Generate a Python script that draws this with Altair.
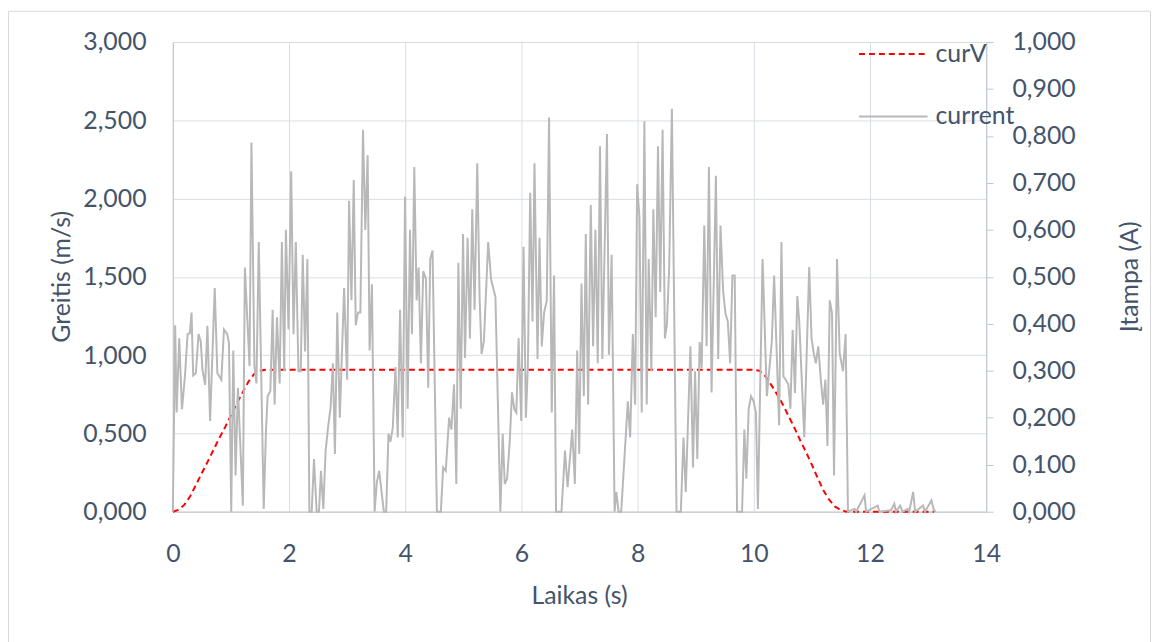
import altair as alt
import pandas as pd

# ---- curV (speed, left axis) ----
curv_t = [0.0, 0.1, 0.2, 0.3, 0.4, 0.5, 0.6, 0.7, 0.8, 0.9, 1.0, 1.1, 1.2, 1.3, 1.4, 1.5, 1.6,
          10.0, 10.1, 10.2, 10.3, 10.4, 10.5, 10.6, 10.7, 10.8, 10.9, 11.0, 11.1, 11.2, 11.3,
          11.4, 11.5, 11.6, 13.1]
curv_v = [0.0, 0.012, 0.045, 0.10, 0.173, 0.247, 0.32, 0.395, 0.47, 0.54, 0.615, 0.69, 0.76,
          0.83, 0.88, 0.90, 0.907,
          0.907, 0.90, 0.865, 0.81, 0.75, 0.685, 0.61, 0.535, 0.455, 0.38, 0.30, 0.215, 0.135,
          0.075, 0.032, 0.01, 0.0, 0.0]

# ---- current (right axis) ----
current_t = [
    0.00, 0.04, 0.065, 0.11, 0.157, 0.208, 0.254, 0.293, 0.322, 0.35, 0.396, 0.442, 0.481, 0.51,
    0.556, 0.595, 0.641, 0.721, 0.766, 0.835, 0.88, 0.937, 0.966, 1.005, 1.04, 1.08, 1.12, 1.205,
    1.24, 1.32, 1.353, 1.404, 1.439, 1.479, 1.564, 1.604, 1.632, 1.678, 1.718, 1.752, 1.792, 1.838,
    1.877, 1.917, 1.946, 1.991, 2.037, 2.077, 2.117, 2.162, 2.202, 2.236, 2.276, 2.316,
    2.35, 2.39, 2.43, 2.475, 2.515, 2.55, 2.59, 2.63, 2.675, 2.715, 2.755, 2.79, 2.83, 2.874,
    2.948, 3.0, 3.034, 3.074, 3.114, 3.148, 3.188, 3.228, 3.273, 3.313, 3.353, 3.387, 3.427, 3.473,
    3.512, 3.552, 3.587, 3.632, 3.672, 3.712, 3.746, 3.786, 3.832, 3.871, 3.911, 3.957, 3.997,
    4.042, 4.082, 4.116, 4.156, 4.196, 4.23, 4.27, 4.31, 4.356, 4.396, 4.43, 4.47,
    4.545, 4.613, 4.653, 4.698, 4.755, 4.795, 4.84, 4.88, 4.915, 4.955, 4.995, 5.029, 5.074,
    5.114, 5.154, 5.194, 5.24, 5.28, 5.314, 5.354, 5.428, 5.479, 5.553, 5.638, 5.678, 5.713,
    5.753, 5.798, 5.838, 5.878, 5.912, 5.952, 5.997, 6.037, 6.077, 6.111, 6.151, 6.191, 6.225,
    6.277, 6.311, 6.351, 6.39, 6.436, 6.476, 6.522, 6.562, 6.596, 6.647, 6.69,
    6.75, 6.795, 6.875, 6.92, 6.96, 6.995, 7.034, 7.074, 7.108, 7.148, 7.194, 7.234, 7.274,
    7.314, 7.353, 7.393, 7.473, 7.507, 7.553, 7.604, 7.633, 7.673, 7.718, 7.832, 7.872, 7.918,
    7.957, 7.992, 8.032, 8.071, 8.117, 8.157, 8.191, 8.237, 8.271, 8.311, 8.351, 8.39, 8.43,
    8.47, 8.504, 8.544, 8.59, 8.67, 8.744, 8.79, 8.829,
    8.909, 8.954, 8.989, 9.028, 9.068, 9.103, 9.148, 9.188, 9.228, 9.273, 9.348, 9.387, 9.427,
    9.473, 9.513, 9.553, 9.593, 9.632, 9.672, 9.712, 9.798, 9.838, 9.872, 9.912, 9.952, 9.997,
    10.037, 10.071, 10.151, 10.225, 10.265, 10.31, 10.35, 10.436, 10.476, 10.51, 10.55, 10.595,
    10.63, 10.669, 10.709, 10.749, 10.783, 10.869, 10.954, 10.994, 11.034, 11.068,
    11.11, 11.154, 11.194, 11.233, 11.268, 11.307, 11.347, 11.381, 11.433, 11.478, 11.535,
    11.581, 11.621, 11.735, 11.763, 11.906, 11.934, 12.134, 12.162, 12.362, 12.419, 12.447,
    12.521, 12.561, 12.647, 12.675, 12.743, 12.778, 12.914, 12.948, 13.057, 13.102, 13.131,
]
current_a = [
    0.0, 0.397, 0.211, 0.369, 0.218, 0.288, 0.378, 0.38, 0.424, 0.29, 0.295, 0.378, 0.362, 0.302,
    0.27, 0.396, 0.193, 0.476, 0.295, 0.281, 0.388, 0.378, 0.359, 0.0, 0.343, 0.077, 0.264, 0.013,
    0.52, 0.31, 0.786, 0.31, 0.273, 0.574, 0.006, 0.175, 0.246, 0.257, 0.43, 0.228, 0.414, 0.273,
    0.574, 0.299, 0.60, 0.388, 0.725, 0.378, 0.574, 0.299, 0.299, 0.547, 0.341, 0.538,
    0.0, 0.0, 0.112, 0.0, 0.0, 0.087, 0.006, 0.13, 0.183, 0.221, 0.316, 0.123, 0.424, 0.2,
    0.476, 0.281, 0.662, 0.45, 0.706, 0.397, 0.424, 0.424, 0.813, 0.60, 0.759, 0.343, 0.484, 0.0,
    0.063, 0.087, 0.049, 0.0, 0.0, 0.166, 0.149, 0.179, 0.308, 0.158, 0.43, 0.158, 0.671,
    0.219, 0.60, 0.378, 0.734, 0.45, 0.52, 0.316, 0.512, 0.496, 0.264, 0.538, 0.556,
    0.0, 0.0, 0.094, 0.087, 0.2, 0.175, 0.271, 0.059, 0.53, 0.219, 0.591, 0.327, 0.583,
    0.369, 0.644, 0.43, 0.742, 0.457, 0.336, 0.362, 0.574, 0.494, 0.457, 0.0, 0.166, 0.059,
    0.07, 0.147, 0.254, 0.218, 0.211, 0.369, 0.193, 0.564, 0.2, 0.309, 0.679, 0.405, 0.742,
    0.325, 0.583, 0.352, 0.424, 0.449, 0.839, 0.211, 0.503, 0.0, 0.0, 0.0,
    0.13, 0.052, 0.175, 0.059, 0.343, 0.123, 0.486, 0.246, 0.591, 0.228, 0.653, 0.352, 0.60,
    0.316, 0.778, 0.325, 0.804, 0.334, 0.547, 0.0, 0.042, 0.0, 0.0, 0.235, 0.158, 0.378,
    0.228, 0.697, 0.626, 0.211, 0.831, 0.228, 0.538, 0.299, 0.644, 0.414, 0.778, 0.468, 0.813,
    0.369, 0.397, 0.521, 0.858, 0.0, 0.0, 0.158, 0.042,
    0.352, 0.094, 0.299, 0.112, 0.361, 0.306, 0.609, 0.352, 0.734, 0.254, 0.715, 0.325, 0.609,
    0.468, 0.422, 0.405, 0.316, 0.503, 0.503, 0.0, 0.0, 0.175, 0.07, 0.218, 0.246, 0.235,
    0.211, 0.006, 0.538, 0.246, 0.299, 0.362, 0.503, 0.184, 0.574, 0.288, 0.281, 0.271,
    0.219, 0.387, 0.253, 0.459, 0.405, 0.158, 0.521, 0.369, 0.336, 0.316,
    0.352, 0.281, 0.228, 0.281, 0.14, 0.45, 0.422, 0.077, 0.538, 0.338, 0.299,
    0.378, 0.0, 0.006, 0.0, 0.035, 0.0, 0.013, 0.0, 0.003, 0.017, 0.0,
    0.013, 0.0, 0.006, 0.0, 0.042, 0.0, 0.013, 0.0, 0.024, 0.003, 0.0,
]

x_ticks = [0, 2, 4, 6, 8, 10, 12, 14]
left_ticks = [0, 0.5, 1.0, 1.5, 2.0, 2.5, 3.0]
right_ticks = [0, 0.1, 0.2, 0.3, 0.4, 0.5, 0.6, 0.7, 0.8, 0.9, 1.0]
series_names = ["curV", "current"]
series_colors = ["#FF0000", "#B8B8B8"]
series_dash = [[6, 4], [1, 0]]

TEXT = "#44546A"
GRID = "#D9DEE5"
DOMAIN = "#BFC6D1"
FONT = "Lato"
FS = 25

df_v = pd.DataFrame({"t": curv_t, "val": curv_v, "series": "curV"})
df_c = pd.DataFrame({"t": current_t, "val": current_a, "series": "current"})

label_expr = "replace(format(datum.value, '.3f'), '.', ',')"

legend = alt.Legend(
    orient="none", legendX=690, legendY=-3, title=None,
    symbolType="stroke", symbolSize=4761, symbolStrokeWidth=2,
    labelFont=FONT, labelFontSize=FS, labelColor=TEXT, labelOffset=7,
    clipHeight=30, rowPadding=33, padding=0,
)
color = alt.Color("series:N", scale=alt.Scale(domain=series_names, range=series_colors), legend=legend)
dash = alt.StrokeDash("series:N", scale=alt.Scale(domain=series_names, range=series_dash), legend=legend)

x_enc = alt.X(
    "t:Q",
    scale=alt.Scale(domain=[0, 14], nice=False),
    axis=alt.Axis(
        values=x_ticks, title="Laikas (s)", grid=True, gridColor=GRID, domainColor=DOMAIN,
        ticks=False, labelPadding=30, labelFlush=False, labelFont=FONT, labelFontSize=FS,
        labelColor=TEXT,
        titleFont=FONT, titleFontSize=FS, titleColor=TEXT, titleFontWeight="normal",
        titleX=409, titleY=84, titleBaseline="middle", titleAlign="center",
    ),
)

line_v = alt.Chart(df_v).mark_line(strokeWidth=2).encode(
    x=x_enc,
    y=alt.Y(
        "val:Q",
        scale=alt.Scale(domain=[0, 3], nice=False),
        axis=alt.Axis(
            orient="left", values=left_ticks, labelExpr=label_expr, title="Greitis (m/s)",
            grid=True, gridColor=GRID, domainColor=DOMAIN, ticks=False, labelPadding=27,
            labelFlush=False, labelFont=FONT, labelFontSize=FS, labelColor=TEXT,
            titleFont=FONT, titleFontSize=FS, titleColor=TEXT, titleFontWeight="normal",
            titleX=-112, titleY=236, titleAngle=270, titleBaseline="middle", titleAlign="center",
        ),
    ),
    color=color,
    strokeDash=dash,
)

line_c = alt.Chart(df_c).mark_line(strokeWidth=2).encode(
    x=x_enc,
    y=alt.Y(
        "val:Q",
        scale=alt.Scale(domain=[0, 1], nice=False),
        axis=alt.Axis(
            orient="right", values=right_ticks, labelExpr=label_expr, title="Įtampa (A)",
            grid=False, domainColor=DOMAIN, ticks=True, tickColor=DOMAIN, tickSize=7,
            labelPadding=19, labelFlush=False, labelFont=FONT, labelFontSize=FS, labelColor=TEXT,
            titleFont=FONT, titleFontSize=FS, titleColor=TEXT, titleFontWeight="normal",
            titleX=144, titleY=236, titleAngle=270, titleBaseline="middle", titleAlign="center",
        ),
    ),
    color=color,
    strokeDash=dash,
)

frame = alt.Chart(pd.DataFrame({"k": [0]})).mark_rect(
    fill=None, stroke="#D9D9D9", strokeWidth=1
).encode(
    x=alt.value(-165.5), x2=alt.value(984.5), y=alt.value(-31), y2=alt.value(700)
)

chart = (
    alt.layer(frame, line_v, line_c)
    .resolve_scale(y="independent")
    .properties(
        width=819, height=473,
        autosize=alt.AutoSizeParams(type="none"),
        padding={"left": 166, "top": 32, "right": 167, "bottom": 129},
    )
    .configure_view(stroke=None)
    .configure(background="white")
)

chart.save("out.html", embed_options={"renderer": "svg", "actions": False})
